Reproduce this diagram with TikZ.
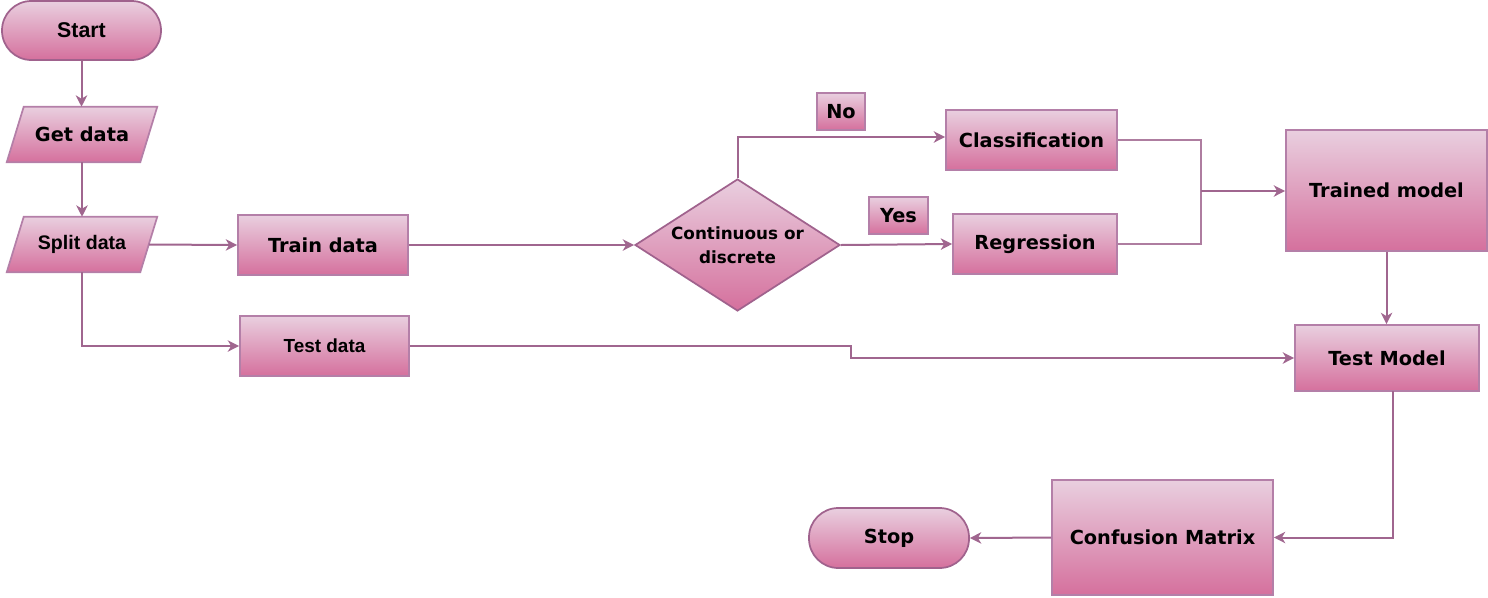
\documentclass[tikz,border=0pt]{standalone}
\usepackage{fontspec}
\setmainfont{DejaVu Sans}
\newfontfamily\arialf{Liberation Sans}
\usetikzlibrary{shapes.geometric,arrows.meta,backgrounds,calc}
\definecolor{ftop}{HTML}{E9CFDF}
\definecolor{fbot}{HTML}{D5709D}
\definecolor{bord}{HTML}{B47FA8}
\definecolor{bordd}{HTML}{A0628D}
\definecolor{arr}{HTML}{A0668F}
\newcommand\myvf{\bfseries\fontsize{14.5}{17}\selectfont}
\newcommand\myaf{\arialf\bfseries\fontsize{14.7}{17}\selectfont}
\begin{document}
\begin{tikzpicture}[x=0.75pt,y=-0.75pt,
  box/.style={draw=bord,line width=1.3pt,top color=ftop,bottom color=fbot,
    font=\myvf,inner sep=0pt,align=center},
  term/.style={box,draw=bordd,rounded corners=22pt},
  pbox/.style={inner sep=0pt,minimum width=99.75pt,minimum height=41.25pt},
  para/.style={draw=bord,line width=1.3pt,top color=ftop,bottom color=fbot},
  dia/.style={box,draw=bordd,shape=diamond,aspect=1.55},
  arrow/.style={draw=arr,line width=1.5pt,-{Stealth[length=8.5pt,width=8.5pt,inset=2.5pt]}},
  conn/.style={draw=arr!85,line width=1.5pt}
]
\useasboundingbox (0,0) rectangle (1488,597);

% nodes
\node[term,minimum width=119.25pt,minimum height=44.25pt,
  font=\arialf\bfseries\fontsize{16}{19}\selectfont] (start) at (81.5,30.5) {Start};
\node[pbox,font=\myvf] (get) at (82,134.5) {Get data};
\node[pbox,font=\myaf] (split) at (82,244.5) {Split data};
\node[box,minimum width=127.5pt,minimum height=45pt] (train) at (323,245) {Train data};
\node[box,minimum width=126.75pt,minimum height=45pt,
  font=\arialf\bfseries\fontsize{14.2}{17}\selectfont] (testd) at (324.5,346) {Test data};
\node[dia,minimum width=153.75pt,minimum height=99pt,
  font=\bfseries\fontsize{12.6}{18}\selectfont] (dec) at (737.5,245) {Continuous or\\discrete};
\node[box,minimum width=128.25pt,minimum height=45pt] (cls) at (1031.5,140) {Classification};
\node[box,minimum width=123pt,minimum height=45pt] (reg) at (1035,244) {Regression};
\node[box,minimum width=36pt,minimum height=27.75pt] (no) at (841,111.5) {No};
\node[box,minimum width=44.25pt,minimum height=27.75pt] (yes) at (898.5,215.5) {Yes};
\node[box,minimum width=150.75pt,minimum height=90.75pt] (tm) at (1386.5,190.5) {Trained model};
\node[box,minimum width=138pt,minimum height=49.5pt] (tsm) at (1387,358) {Test Model};
\node[box,minimum width=165.75pt,minimum height=86.25pt] (cm) at (1162.5,537.5) {Confusion Matrix};
\node[term,minimum width=120pt,minimum height=45pt] (stop) at (889,538) {Stop};

% parallelogram outlines
\begin{pgfonlayer}{background}
\path[para] ($(get.north west)+(8.5,0)$) -- ($(get.north east)+(8.5,0)$)
  -- ($(get.south east)+(-8.5,0)$) -- ($(get.south west)+(-8.5,0)$) -- cycle;
\path[para] ($(split.north west)+(8.5,0)$) -- ($(split.north east)+(8.5,0)$)
  -- ($(split.south east)+(-8.5,0)$) -- ($(split.south west)+(-8.5,0)$) -- cycle;
\end{pgfonlayer}

% connectors
\coordinate (jn) at (1201,191);
\coordinate (bend) at (851,346);
\coordinate (tsmout) at (1393,391);

\draw[arrow] (start.south) -- (start.south |- get.north);
\draw[arrow] (get.south) -- (split.north);
\draw[arrow] (split.east) -- (train.west);
\draw[arrow] (split.south) |- (testd.west);
\draw[arrow] (train.east) -- (dec.west);
\draw[arrow] (dec.north) |- ([yshift=2.25pt]cls.west);
\draw[arrow] (dec.east) -- (reg.west);
\draw[conn] (cls.east) -| (jn) |- (reg.east);
\draw[arrow] (jn) -- (jn -| tm.west);
\draw[arrow] (tm.south) -- (tm.south |- tsm.north);
\draw[arrow] (testd.east) -- (bend) |- (tsm.west);
\draw[arrow] (tsmout) |- (cm.east);
\draw[arrow] (cm.west) -- (stop.east);
\end{tikzpicture}
\end{document}
